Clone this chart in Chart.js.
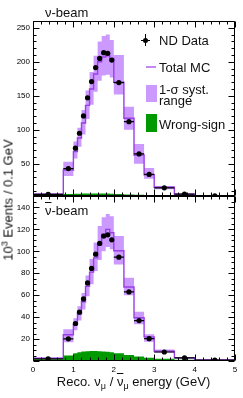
<!DOCTYPE html>
<html lang="en">
<head>
<meta charset="UTF-8">
<title>ND reco energy spectra</title>
<script src="https://cdn.jsdelivr.net/npm/chart.js@4"></script>
<style>
  body { margin: 0; background: #fff; }
  #wrap { position: relative; width: 243px; height: 398px; font-family: "Liberation Sans", Arial, sans-serif; color: #111; }
  #chart { position: absolute; left: 0; top: 0; }
  .txt { position: absolute; white-space: nowrap; font-size: 13px; line-height: 1; }
  .bar { text-decoration: overline; }
  .sub { font-size: 9px; position: relative; top: 3px; }
  .sup { font-size: 9px; position: relative; top: -5px; }
  .box { position: absolute; }
</style>
</head>
<body>
<div id="wrap">
  <canvas id="chart" width="243" height="398"></canvas>

  <div class="txt" style="left:45px;top:5.5px">ν-beam</div>
  <div class="txt" style="left:45px;top:203.5px"><span class="bar">ν</span>-beam</div>

  <!-- legend -->
  <div class="box" style="left:141px;top:34px;width:9px;height:12px">
    <span class="box" style="left:4px;top:0;width:1px;height:12px;background:#000"></span>
    <span class="box" style="left:0;top:5.5px;width:9px;height:1px;background:#000"></span>
    <span class="box" style="left:2px;top:3.5px;width:5px;height:5px;border-radius:50%;background:#000"></span>
  </div>
  <div class="txt" style="left:159px;top:33.6px">ND Data</div>
  <div class="box" style="left:146px;top:66px;width:10px;height:2px;background:#c08af2"></div>
  <div class="txt" style="left:159px;top:61px">Total MC</div>
  <div class="box" style="left:145.7px;top:85.3px;width:11px;height:16.5px;background:#cc99ff"></div>
  <div class="txt" style="left:159px;top:83px">1-σ syst.</div>
  <div class="txt" style="left:159px;top:93.5px">range</div>
  <div class="box" style="left:145.7px;top:114.3px;width:11px;height:17.5px;background:#009900"></div>
  <div class="txt" style="left:159px;top:118.3px">Wrong-sign</div>

  <!-- axis titles -->
  <div class="txt" style="left:8.3px;top:199.5px;transform:translate(-50%,-50%) rotate(-90deg)">10<span class="sup">3</span> Events / 0.1 GeV</div>
  <div class="txt" style="left:133.5px;top:374.5px;transform:translateX(-50%)">Reco. ν<span class="sub">μ</span> / <span class="bar">ν</span><span class="sub">μ</span> energy (GeV)</div>
</div>

<script>
  // bin edges (GeV), variable width
  const binEdges = [0, 0.75, 1.0, 1.1, 1.2, 1.3, 1.4, 1.5, 1.6, 1.7, 1.8, 1.9, 2.0, 2.25, 2.5, 2.75, 3.0, 3.5, 4.0, 5.0];
  const xTicks = [0, 1, 2, 3, 4, 5];

  // nu-beam, 10^3 events / 0.1 GeV
  const nuData = [5, 43, 73, 95, 120.5, 147, 171, 191.5, 205, 213.5, 212.5, 202.5, 169.5, 112, 64.5, 34.5, 14.8, 5.5, 3];
  const nuMC = [5.5, 41, 68, 88, 110, 136, 160, 182, 200, 207, 209, 205, 170, 117, 63, 34, 15.5, 5.5, 3];
  const nuSystLo = [4.5, 32, 58, 75, 93, 116, 137, 156, 172, 180, 181, 177, 152, 100, 50, 28, 12.5, 4.5, 2.5];
  const nuSystHi = [6.5, 53, 83, 103, 129, 158, 185, 209, 230, 238, 240, 232, 210, 134, 79, 44, 17.5, 6.5, 3.5];
  const nuWrongSign = [3.5, 5.5, 6, 6, 6.5, 6.5, 6.5, 6.5, 6.5, 6.5, 6.5, 6, 5.5, 5, 4.5, 4, 3.5, 3, 3];
  const nuTicks = [50, 100, 150, 200, 250];

  // antinu-beam, 10^3 events / 0.1 GeV
  const nubarData = [2, 20.2, 34.2, 44.5, 56.6, 71.2, 84.4, 97.4, 107.2, 113.9, 115, 110.5, 94.7, 63, 36.9, 20.4, 8.2, 2.8, 0.9];
  const nubarMC = [2.5, 24, 33, 43, 54, 68, 81, 94, 106, 115.5, 120, 117, 100.5, 67.5, 39.5, 22, 9, 3, 1];
  const nubarSystLo = [2, 17, 28, 37, 47, 59, 70, 82, 92, 100, 104, 102, 88, 60, 33.5, 17.5, 7.5, 2.5, 0.8];
  const nubarSystHi = [3, 29, 39, 50, 62, 78, 93, 108, 123, 131, 134, 132, 114, 76, 45, 24.5, 10.5, 3.6, 1.2];
  const nubarWrongSign = [1.5, 5, 7, 8, 8.6, 9, 9.2, 9.2, 9, 8.7, 8.4, 8, 7, 5.5, 4.2, 3, 2, 1.1, 0.6];
  const nubarTicks = [20, 40, 60, 80, 100, 120, 140];

  const nuRange = [2, 260];
  const nubarRange = [0, 150];

  const mcColor = '#9a3ee6';
  const bandColor = '#cc99ff';
  const wsColor = '#009900';
  const tickFont = { family: '"Liberation Sans", Arial, sans-serif', size: 8 };

  // histogram outline: two points per bin (flat top), vertical joins between bins
  function histPoints(vals) {
    const pts = [];
    vals.forEach((v, i) => {
      pts.push({ x: binEdges[i], y: v }, { x: binEdges[i + 1], y: v });
    });
    return pts;
  }
  function centerPoints(vals) {
    return vals.map((v, i) => ({ x: (binEdges[i] + binEdges[i + 1]) / 2, y: v }));
  }
  // horizontal error bars = bin width, broken by gaps
  function xErrPoints(vals) {
    const pts = [];
    vals.forEach((v, i) => {
      pts.push({ x: binEdges[i], y: v }, { x: binEdges[i + 1], y: v }, { x: binEdges[i + 1], y: null });
    });
    return pts;
  }

  function panelSets(axis, data, mc, lo, hi, ws, base) {
    const flat = { yAxisID: axis, pointRadius: 0, borderColor: 'transparent', borderWidth: 0 };
    return [
      { data: centerPoints(data), yAxisID: axis, showLine: false, pointRadius: 2.6, pointBackgroundColor: '#000', pointBorderWidth: 0, order: 0 },
      { data: xErrPoints(data), yAxisID: axis, borderColor: '#000', borderWidth: 1.2, pointRadius: 0, spanGaps: false, fill: false, order: 1 },
      { ...flat, data: histPoints(ws), backgroundColor: wsColor, fill: { value: base }, order: 2 },
      { data: histPoints(mc), yAxisID: axis, borderColor: mcColor, borderWidth: 1.4, pointRadius: 0, fill: false, order: 3 },
      { ...flat, data: histPoints(hi), backgroundColor: bandColor, fill: '+1', order: 4 },
      { ...flat, data: histPoints(lo), fill: false, order: 4 }
    ];
  }

  function yScale(ticks, range, weight) {
    return {
      type: 'linear', position: 'left', stack: 'panels', stackWeight: weight,
      min: range[0], max: range[1],
      afterBuildTicks: s => { s.ticks = ticks.map(v => ({ value: v })); },
      afterFit: s => { s.width = 33; },
      ticks: { font: tickFont, color: '#000', padding: 3, autoSkip: false },
      grid: { display: false, drawTicks: false },
      border: { display: false }
    };
  }

  // frame + inward ticks on all four sides of each panel
  const frameTicks = {
    id: 'frameTicks',
    afterDraw(chart) {
      const ctx = chart.ctx, xs = chart.scales.x;
      const L = Math.round(xs.left) + 0.5, R = Math.round(xs.right) - 0.5;
      ctx.save();
      ctx.strokeStyle = '#000';
      ctx.lineWidth = 1;
      [['yNu', 10, 50], ['yNubar', 5, 20]].forEach(([id, minor, major]) => {
        const ys = chart.scales[id];
        const T = Math.round(ys.top) + 0.5, B = Math.round(ys.bottom) - 0.5;
        ctx.beginPath();
        ctx.rect(L, T, R - L, B - T);
        for (let v = 0; v <= 5.0001; v += 0.2) {
          const px = Math.round(xs.getPixelForValue(v)) + 0.5;
          const len = Math.abs(v - Math.round(v)) < 1e-6 ? 6 : 3;
          ctx.moveTo(px, B); ctx.lineTo(px, B - len);
          ctx.moveTo(px, T); ctx.lineTo(px, T + len);
        }
        for (let v = 0; v <= ys.max; v += minor) {
          if (v < ys.min) continue;
          const py = Math.round(ys.getPixelForValue(v)) + 0.5;
          const len = v % major === 0 ? 6 : 3;
          ctx.moveTo(L, py); ctx.lineTo(L + len, py);
          ctx.moveTo(R, py); ctx.lineTo(R - len, py);
        }
        ctx.stroke();
      });
      ctx.restore();
    }
  };

  new Chart(document.getElementById('chart'), {
    type: 'line',
    data: {
      datasets: [
        ...panelSets('yNu', nuData, nuMC, nuSystLo, nuSystHi, nuWrongSign, nuRange[0]),
        ...panelSets('yNubar', nubarData, nubarMC, nubarSystLo, nubarSystHi, nubarWrongSign, nubarRange[0])
      ]
    },
    options: {
      responsive: false,
      animation: false,
      devicePixelRatio: 1,
      layout: { padding: { top: 21, right: 8, left: 0, bottom: 0 } },
      plugins: { legend: { display: false }, tooltip: { enabled: false } },
      scales: {
        x: {
          type: 'linear', min: 0, max: 5,
          afterBuildTicks: s => { s.ticks = xTicks.map(v => ({ value: v })); },
          afterFit: s => { s.height = 37; },
          ticks: { font: tickFont, color: '#000', padding: 4, maxRotation: 0, autoSkip: false },
          grid: { display: false, drawTicks: false },
          border: { display: false }
        },
        yNubar: yScale(nubarTicks, nubarRange, 165),
        yNu: yScale(nuTicks, nuRange, 176)
      }
    },
    plugins: [frameTicks]
  });
</script>
</body>
</html>
